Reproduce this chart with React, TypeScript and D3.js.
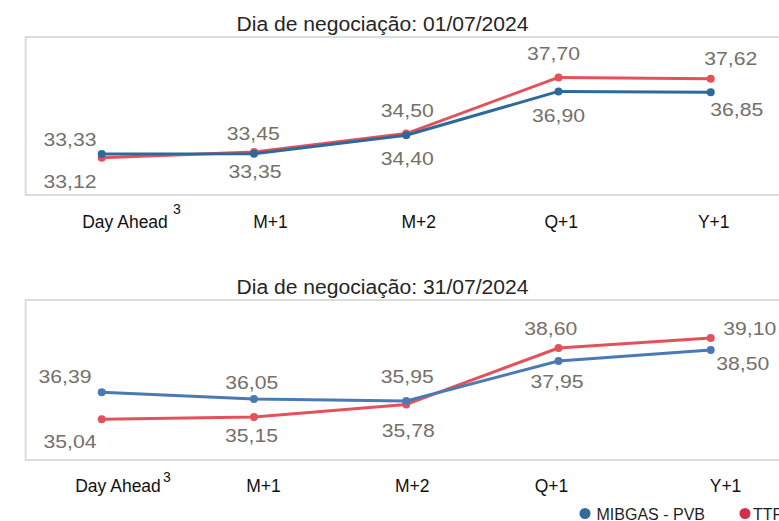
import React from "react";
import * as d3 from "d3";

// ---- data ----
const categories = ["Day Ahead", "M+1", "M+2", "Q+1", "Y+1"];
const seriesNames = ["MIBGAS - PVB", "TTF"];
const titles = ["Dia de negociação: 01/07/2024", "Dia de negociação: 31/07/2024"];
const mibgasJul01 = [33.33, 33.35, 34.4, 36.9, 36.85];
const ttfJul01 = [33.12, 33.45, 34.5, 37.7, 37.62];
const mibgasJul31 = [36.39, 36.05, 35.95, 37.95, 38.5];
const ttfJul31 = [35.04, 35.15, 35.78, 38.6, 39.1];
const yDomainJul01 = [31, 40];
const yDomainJul31 = [33, 41];

// ---- layout / style (not data) ----
const W = 779;
const H = 521;
const xRange = [25.6, 786.85];
const labelFont = "'Liberation Sans', Arial, sans-serif";

type Off = [number, number];
interface Panel {
  title: string;
  titleY: number;
  top: number;
  bottom: number;
  domain: number[];
  mibgas: number[];
  ttf: number[];
  blue: string;
  red: string;
  mibOff: Off[];
  ttfOff: Off[];
  axisY: number;
  axisDx: number[];
  supDx: number;
  supDy: number;
}

const panels: Panel[] = [
  {
    title: titles[0],
    titleY: 30.5,
    top: 37,
    bottom: 195,
    domain: yDomainJul01,
    mibgas: mibgasJul01,
    ttf: ttfJul01,
    blue: "#2d6a99",
    red: "#e5515b",
    mibOff: [[-31.7, -7.6], [1, 24.6], [1, 29.3], [0, 30.3], [26, 23.7]],
    ttfOff: [[-31.7, 30.2], [-0.7, -12], [1, -16.9], [-5, -17.4], [20, -13.8]],
    axisY: 227.5,
    axisDx: [23.3, 16.5, 12.5, 2.7, 3],
    supDx: 71.3,
    supDy: -13.5,
  },
  {
    title: titles[1],
    titleY: 294,
    top: 300,
    bottom: 460,
    domain: yDomainJul31,
    mibgas: mibgasJul31,
    ttf: ttfJul31,
    blue: "#4a7ab3",
    red: "#e5515b",
    mibOff: [[-36.7, -9.2], [-2.2, -10], [1, -18], [-1.5, 27], [32, 20]],
    ttfOff: [[-31.7, 28.8], [-2.4, 25], [2, 32.3], [-7.7, -13], [39, -3]],
    axisY: 492,
    axisDx: [16.3, 9.5, 6, -7, 14.8],
    supDx: 61.3,
    supDy: -10,
  },
];

const fmt = (v: number) => v.toFixed(2).replace(".", ",");

function PanelView({ p }: { p: Panel }) {
  const x = d3.scaleBand<string>().domain(categories).range(xRange as [number, number]).padding(0);
  const cx = (c: string) => (x(c) as number) + x.bandwidth() / 2;
  const y = d3.scaleLinear().domain(p.domain).range([p.bottom, p.top]);
  const line = d3
    .line<number>()
    .x((_, i) => cx(categories[i]))
    .y((d) => y(d));

  const series = [
    { vals: p.ttf, color: p.red, off: p.ttfOff },
    { vals: p.mibgas, color: p.blue, off: p.mibOff },
  ];

  return (
    <g>
      <text
        x={382.5}
        y={p.titleY}
        textAnchor="middle"
        fontFamily={labelFont}
        fontSize={20}
        fill="#262626"
        textLength={292}
        lengthAdjust="spacingAndGlyphs"
      >
        {p.title}
      </text>
      <rect
        x={xRange[0]}
        y={p.top}
        width={800}
        height={p.bottom - p.top}
        fill="none"
        stroke="#d9d9d9"
        strokeWidth={1.8}
      />
      {series.map((s, si) => (
        <g key={si}>
          <path d={line(s.vals) || ""} fill="none" stroke={s.color} strokeWidth={3} strokeLinejoin="round" />
          {s.vals.map((v, i) => (
            <circle key={i} cx={cx(categories[i])} cy={y(v)} r={4} fill={s.color} />
          ))}
        </g>
      ))}
      {series.map((s, si) =>
        s.vals.map((v, i) => (
          <text
            key={`${si}-${i}`}
            x={cx(categories[i]) + s.off[i][0]}
            y={y(v) + s.off[i][1]}
            textAnchor="middle"
            fontFamily={labelFont}
            fontSize={19}
            fill="#74706b"
            textLength={53}
            lengthAdjust="spacingAndGlyphs"
          >
            {fmt(v)}
          </text>
        ))
      )}
      {categories.map((c, i) => (
        <text
          key={c}
          x={cx(c) + p.axisDx[i]}
          y={p.axisY}
          textAnchor="middle"
          fontFamily={labelFont}
          fontSize={17.5}
          fill="#111"
        >
          {c}
        </text>
      ))}
      <text
        x={cx(categories[0]) + p.supDx}
        y={p.axisY + p.supDy}
        fontFamily={labelFont}
        fontSize={14}
        fill="#111"
      >
        3
      </text>
    </g>
  );
}

export default function App() {
  const legendColors = ["#2e6c9c", "#d22f4d"];
  const legendX = [585, 745];
  return (
    <svg
      width={W}
      height={H}
      viewBox={`0 0 ${W} ${H}`}
      style={{ position: "absolute", left: 0, top: 0, display: "block", background: "#fff" }}
    >
      <rect width={W} height={H} fill="#fff" />
      {panels.map((p, i) => (
        <PanelView key={i} p={p} />
      ))}
      {seriesNames.map((n, i) => (
        <g key={n}>
          <circle cx={legendX[i]} cy={513.5} r={5.5} fill={legendColors[i]} />
          <text x={legendX[i] + (i === 0 ? 11.5 : 8)} y={519.5} fontFamily={labelFont} fontSize={16} fill="#1f1f1f">
            {n}
          </text>
        </g>
      ))}
    </svg>
  );
}
